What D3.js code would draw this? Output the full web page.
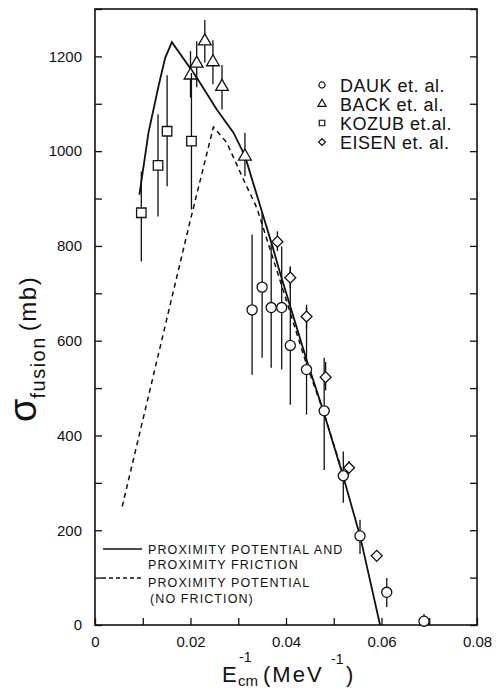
<!DOCTYPE html>
<html>
<head>
<meta charset="utf-8">
<script src="https://cdn.jsdelivr.net/npm/d3@7/dist/d3.min.js"></script>
<style>
  body { margin: 0; background: #fff; }
  text { font-family: "Liberation Sans", Arial, sans-serif; fill: #111; }
</style>
</head>
<body>
<div id="chart"></div>
<script>
// DAUK et. al. (circles)
const daukX  = [0.0329, 0.0350, 0.0369, 0.0391, 0.0409, 0.0443, 0.0480, 0.0520, 0.0555, 0.0611, 0.0689];
const daukY  = [665, 713, 670, 670, 590, 539, 452, 315, 188, 69, 8];
const daukLo = [528, 564, 543, 539, 465, 444, 327, 258, 150, 38, 0];
const daukHi = [824, 870, 803, 799, 754, 670, 564, 366, 222, 99, 23];

// BACK et. al. (triangles)
const backX  = [0.0200, 0.0213, 0.0230, 0.0247, 0.0266, 0.0314];
const backY  = [1160, 1185, 1232, 1188, 1136, 989];
const backLo = [1113, 1135, 1187, 1141, 1088, 947];
const backHi = [1211, 1232, 1277, 1234, 1182, 1039];

// KOZUB et. al. (squares)
const kozubX  = [0.0097, 0.0132, 0.0151, 0.0202];
const kozubY  = [870, 970, 1042, 1021];
const kozubLo = [767, 862, 926, 877];
const kozubHi = [957, 1078, 1160, 1165];

// EISEN et. al. (diamonds)
const eisenX  = [0.0382, 0.0409, 0.0443, 0.0483, 0.0532, 0.0590];
const eisenY  = [809, 733, 651, 523, 332, 146];
const eisenLo = [789, 710, 625, 495, 318, 146];
const eisenHi = [831, 757, 676, 555, 346, 146];

// proximity potential and proximity friction (solid)
const frictionX = [0.0093, 0.0112, 0.0133, 0.0147, 0.0161, 0.0212, 0.0255, 0.0290, 0.0314, 0.0352, 0.0372, 0.0387, 0.0443, 0.0478, 0.0520, 0.0555, 0.0597];
const frictionY = [908, 1039, 1137, 1197, 1230, 1157, 1088, 1039, 990, 864, 798, 745, 560, 452, 313, 188, 0];

// proximity potential, no friction (dashed)
const noFricX = [0.0057, 0.0195, 0.0248, 0.0276, 0.0311, 0.0339, 0.0387, 0.0443, 0.0478, 0.0525];
const noFricY = [250, 835, 1051, 1018, 940, 880, 729, 550, 452, 300];

const xTicks = [0, 0.01, 0.02, 0.03, 0.04, 0.05, 0.06, 0.07, 0.08];
const xTickLabels = ["0", "", "0.02", "", "0.04", "", "0.06", "", "0.08"];
const yTicks = d3.range(0, 1301, 100);

const legendNames = ["DAUK et. al.", "BACK et. al.", "KOZUB et.al.", "EISEN et. al."];

const width = 496, height = 690;
const mLeft = 95, mRight = 477, mTop = 9, mBottom = 625;

const x = d3.scaleLinear().domain([0, 0.08]).range([mLeft, mRight]);
const y = d3.scaleLinear().domain([0, 1300]).range([mBottom, mTop]);

const svg = d3.select("#chart").append("svg")
  .attr("width", width)
  .attr("height", height);

// frame
svg.append("rect")
  .attr("x", mLeft).attr("y", mTop)
  .attr("width", mRight - mLeft).attr("height", mBottom - mTop)
  .attr("fill", "none").attr("stroke", "#111").attr("stroke-width", 1.6);

// axes
const xAxis = svg.append("g")
  .attr("transform", `translate(0,${mBottom})`)
  .call(d3.axisBottom(x).tickValues(xTicks).tickSize(-7).tickPadding(11)
    .tickFormat((d, i) => xTickLabels[i]));

const yAxis = svg.append("g")
  .attr("transform", `translate(${mLeft},0)`)
  .call(d3.axisLeft(y).tickValues(yTicks).tickSize(-7).tickPadding(13)
    .tickFormat(d => d % 200 === 0 ? d : ""));

const yAxisR = svg.append("g")
  .attr("transform", `translate(${mRight},0)`)
  .call(d3.axisRight(y).tickValues(yTicks).tickSize(-7).tickFormat(""));

[xAxis, yAxis, yAxisR].forEach(g => {
  g.select(".domain").remove();
  g.selectAll(".tick line").attr("stroke", "#111").attr("stroke-width", 1.3);
  g.selectAll(".tick text").style("font-size", "15px").attr("fill", "#111");
});

// curves
const line = d3.line().x(d => x(d[0])).y(d => y(d[1]));

svg.append("path")
  .datum(frictionX.map((v, i) => [v, frictionY[i]]))
  .attr("d", line)
  .attr("fill", "none").attr("stroke", "#111").attr("stroke-width", 1.8);

svg.append("path")
  .datum(noFricX.map((v, i) => [v, noFricY[i]]))
  .attr("d", line)
  .attr("fill", "none").attr("stroke", "#111").attr("stroke-width", 1.5)
  .attr("stroke-dasharray", "5,4");

// data sets with error bars (diamond = square turned 45 degrees)
const sets = [
  { xs: daukX, ys: daukY, lo: daukLo, hi: daukHi, sym: d3.symbolCircle, size: 80, rot: 0 },
  { xs: backX, ys: backY, lo: backLo, hi: backHi, sym: d3.symbolTriangle, size: 70, rot: 0 },
  { xs: kozubX, ys: kozubY, lo: kozubLo, hi: kozubHi, sym: d3.symbolSquare, size: 90, rot: 0 },
  { xs: eisenX, ys: eisenY, lo: eisenLo, hi: eisenHi, sym: d3.symbolSquare, size: 60, rot: 45 }
];

sets.forEach(s => {
  const pts = s.xs.map((v, i) => ({ x: v, y: s.ys[i], lo: s.lo[i], hi: s.hi[i] }));
  svg.append("g").selectAll("line")
    .data(pts)
    .join("line")
    .attr("x1", d => x(d.x)).attr("x2", d => x(d.x))
    .attr("y1", d => y(d.lo)).attr("y2", d => y(d.hi))
    .attr("stroke", "#111").attr("stroke-width", 1.3);
  svg.append("g").selectAll("path")
    .data(pts)
    .join("path")
    .attr("transform", d => `translate(${x(d.x)},${y(d.y)}) rotate(${s.rot})`)
    .attr("d", d3.symbol().type(s.sym).size(s.size))
    .attr("fill", "#fff").attr("stroke", "#111").attr("stroke-width", 1.3);
});

// symbol legend (top right)
const leg = svg.append("g");
legendNames.forEach((name, i) => {
  const ly = 85 + i * 19;
  leg.append("path")
    .attr("transform", `translate(322,${ly}) rotate(${sets[i].rot})`)
    .attr("d", d3.symbol().type(sets[i].sym).size(sets[i].rot ? 24 : 30))
    .attr("fill", "#fff").attr("stroke", "#111").attr("stroke-width", 1.2);
  leg.append("text")
    .attr("x", 340).attr("y", ly + 6.5)
    .style("font-size", "18px").style("letter-spacing", "0.5px")
    .text(name);
});

// line legend (bottom left)
const leg2 = svg.append("g");
leg2.append("line").attr("x1", 103).attr("x2", 142).attr("y1", 549).attr("y2", 549)
  .attr("stroke", "#111").attr("stroke-width", 1.6);
leg2.append("line").attr("x1", 102).attr("x2", 142).attr("y1", 578).attr("y2", 578)
  .attr("stroke", "#111").attr("stroke-width", 1.4).attr("stroke-dasharray", "4,3");
const legLines = [
  ["PROXIMITY POTENTIAL AND", 148, 554],
  ["PROXIMITY FRICTION", 148, 569],
  ["PROXIMITY POTENTIAL", 148, 587],
  ["(NO FRICTION)", 150, 603]
];
legLines.forEach(t => {
  leg2.append("text")
    .attr("x", t[1]).attr("y", t[2])
    .style("font-size", "12.5px").style("letter-spacing", "1.1px")
    .text(t[0]);
});

// x axis title: E_cm^-1 (MeV^-1)
const xTitle = svg.append("g");
xTitle.append("text").attr("x", 222).attr("y", 682).style("font-size", "22px").text("E");
xTitle.append("text").attr("x", 239).attr("y", 662).style("font-size", "14px").text("-1");
xTitle.append("text").attr("x", 238).attr("y", 686).style("font-size", "15px").text("cm");
xTitle.append("text").attr("x", 263).attr("y", 682).style("font-size", "22px")
  .style("letter-spacing", "2px").text("(MeV");
xTitle.append("text").attr("x", 331).attr("y", 664).style("font-size", "14px").text("-1");
xTitle.append("text").attr("x", 346).attr("y", 682).style("font-size", "22px").text(")");

// y axis title
const yt = svg.append("text")
  .attr("transform", "translate(36,422) rotate(-90)")
  .style("font-size", "24px");
yt.append("tspan").style("font-size", "38px").text("σ");
yt.append("tspan").attr("dy", 9).style("font-size", "20px").style("letter-spacing", "1.5px").text("fusion");
yt.append("tspan").attr("dy", -9).attr("dx", 5).style("letter-spacing", "1.5px").text("(mb)");
</script>
</body>
</html>
